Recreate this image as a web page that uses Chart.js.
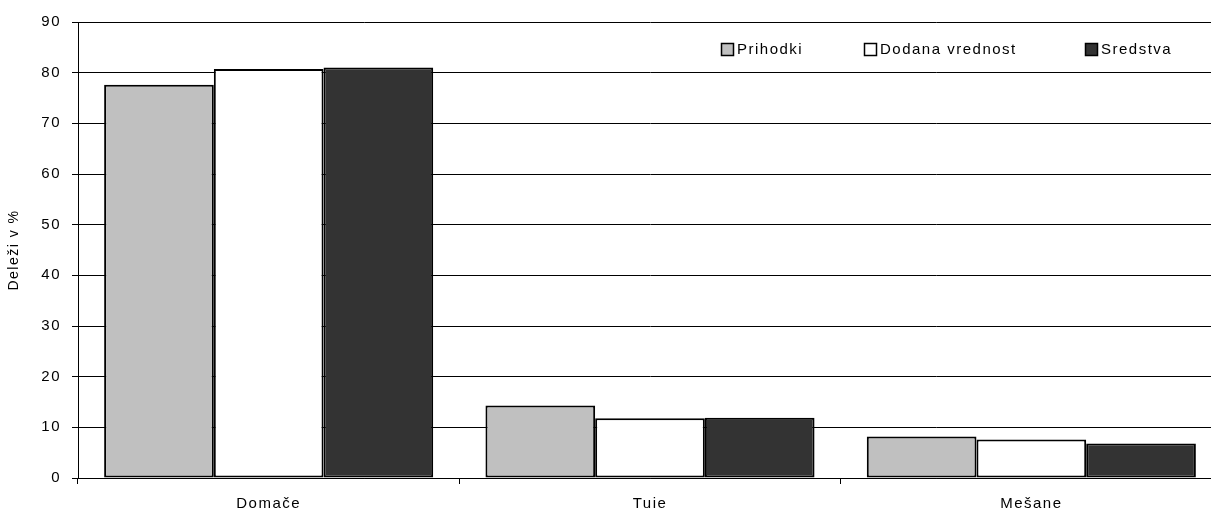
<!DOCTYPE html>
<html>
<head>
<meta charset="utf-8">
<script src="https://cdn.jsdelivr.net/npm/chart.js@4/dist/chart.umd.min.js"></script>
<style>
  html, body { margin: 0; padding: 0; background: #fff; overflow: hidden; }
  #wrap { width: 1224px; height: 513px; }
</style>
</head>
<body>
<div id="wrap"><canvas id="chart" width="1224" height="513"></canvas></div>
<script>
// values
const categories = ["Domače", "Tuie", "Mešane"]
const prihodki = [77.6, 14.3, 8.2]
const dodana = [80.7, 11.8, 7.6]
const sredstva = [81.0, 11.9, 6.8]
const seriesNames = ["Prihodki", "Dodana vrednost", "Sredstva"]
const yTicks = [0, 10, 20, 30, 40, 50, 60, 70, 80, 90]

Chart.defaults.font.family = 'Arial, "Liberation Sans", sans-serif'
Chart.defaults.font.size = 15
Chart.defaults.color = "#000"

// excel style loose letters
const spacing = {
  id: "spacing",
  beforeLayout(chart) { chart.ctx.letterSpacing = "1.5px" },
  beforeDraw(chart) { chart.ctx.letterSpacing = "1.5px" }
}

// legend sits inside the plot, top right
const boxLegend = {
  id: "boxLegend",
  afterDraw(chart) {
    let ctx = chart.ctx
    let xs = [721, 864, 1085]//box left edges
    ctx.save()
    ctx.letterSpacing = "1.5px"
    ctx.font = '15px Arial, "Liberation Sans", sans-serif'
    ctx.textBaseline = "middle"
    ctx.textAlign = "left"
    chart.data.datasets.forEach((ds, i) => {
      ctx.fillStyle = ds.backgroundColor
      ctx.fillRect(xs[i], 43, 13, 13)
      ctx.strokeStyle = "#000"
      ctx.lineWidth = 1.5
      ctx.strokeRect(xs[i] + 0.5, 43.5, 12, 12)
      ctx.fillStyle = "#000"
      ctx.fillText(ds.label, xs[i] + 16, 50)
    })
    ctx.restore()
  }
}

const data = {
  labels: categories,
  datasets: [{
    label: seriesNames[0],
    data: prihodki,
    backgroundColor: "#C0C0C0",
  }, {
    label: seriesNames[1],
    data: dodana,
    backgroundColor: "#FFFFFF",
  }, {
    label: seriesNames[2],
    data: sredstva,
    backgroundColor: "#333333",
  }]
}

const config = {
  type: "bar",
  data: data,
  plugins: [spacing, boxLegend],
  options: {
    responsive: false,
    animation: false,
    devicePixelRatio: 1,
    layout: { padding: { top: 22, right: 2, left: 0, bottom: 0 } },
    datasets: {
      bar: {
        borderColor: "#000",
        borderWidth: 2,
        borderSkipped: false,
        categoryPercentage: 0.863,
        barPercentage: 1
      }
    },
    plugins: {
      legend: { display: false },
      tooltip: { enabled: false }
    },
    scales: {
      x: {
        grid: { display: true, drawOnChartArea: false, drawTicks: true, tickLength: 6, color: "#000" },
        border: { color: "#000" },
        ticks: { padding: 11, maxRotation: 0 },
        afterFit: (s) => { s.height = 35 }
      },
      y: {
        min: 0,
        max: 90,
        afterBuildTicks: (s) => { s.ticks = yTicks.map(v => ({ value: v })) },
        grid: { color: "#000", tickLength: 6 },
        border: { color: "#000" },
        ticks: { padding: 11 },
        title: { display: true, text: "Deleži v %", font: { size: 14 }, padding: { top: 6, bottom: 0 } },
        afterFit: (s) => { s.width = 78 }
      }
    }
  }
}

const chart = new Chart(document.getElementById("chart"), config)
</script>
</body>
</html>
